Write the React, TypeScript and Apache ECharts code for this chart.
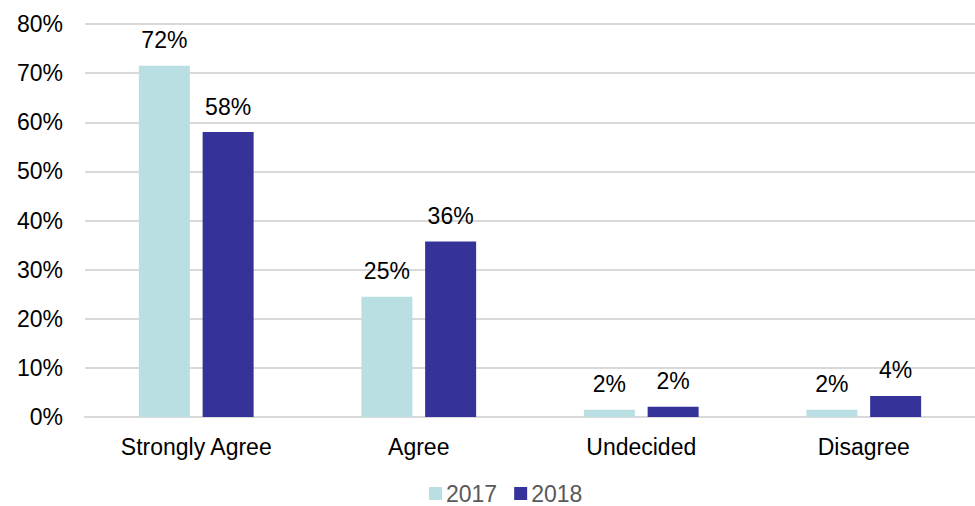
import React, { useEffect, useRef } from "react";
import * as echarts from "echarts";

const categories = ["Strongly Agree", "Agree", "Undecided", "Disagree"];
const values2017 = [71.5, 24.5, 1.5, 1.5];
const values2018 = [58, 35.7, 2.1, 4.3];
const yTicks = [0, 10, 20, 30, 40, 50, 60, 70, 80];

export default function App() {
  const ref = useRef<HTMLDivElement>(null);
  useEffect(() => {
    document.body.style.margin = "0";
    document.body.style.overflow = "hidden";
    const chart = echarts.init(ref.current!, null, { renderer: "svg" });
    const font = "Liberation Sans, Arial, sans-serif";
    const label = {
      show: true,
      position: "top" as const,
      distance: 14,
      color: "#000",
      fontSize: 23,
      fontFamily: font,
      formatter: (p: any) => Math.round(p.value) + "%",
    };
    chart.setOption({
      animation: false,
      grid: { left: 85, top: 24, width: 896, height: 393, containLabel: false },
      legend: {
        top: 482,
        left: 429,
        padding: 0,
        itemWidth: 13,
        itemHeight: 13,
        itemGap: 17,
        icon: "rect",
        textStyle: { color: "#595959", fontSize: 23, fontFamily: font, padding: [0, 0, 0, -1] },
        data: ["2017", "2018"],
      },
      xAxis: {
        type: "category",
        data: categories,
        axisTick: { show: false },
        axisLine: { show: true, lineStyle: { color: "#D9D9D9", width: 2 } },
        axisLabel: { color: "#000", fontSize: 23, fontFamily: font, margin: 18 },
      },
      yAxis: {
        type: "value",
        min: yTicks[0],
        max: yTicks[yTicks.length - 1],
        interval: 10,
        axisLine: { show: false },
        axisTick: { show: false },
        splitLine: { lineStyle: { color: "#D9D9D9", width: 2 } },
        axisLabel: {
          color: "#000",
          fontSize: 23,
          fontFamily: font,
          margin: 22,
          formatter: (v: number) => v + "%",
        },
      },
      series: [
        {
          name: "2017",
          type: "bar",
          data: values2017,
          barWidth: 51,
          barGap: "25%",
          itemStyle: { color: "#B9DFE3" },
          label,
        },
        {
          name: "2018",
          type: "bar",
          data: values2018,
          barWidth: 51,
          barGap: "25%",
          itemStyle: { color: "#353399" },
          label,
        },
      ],
    });
    return () => chart.dispose();
  }, []);
  return <div ref={ref} style={{ width: 975, height: 506 }} />;
}
